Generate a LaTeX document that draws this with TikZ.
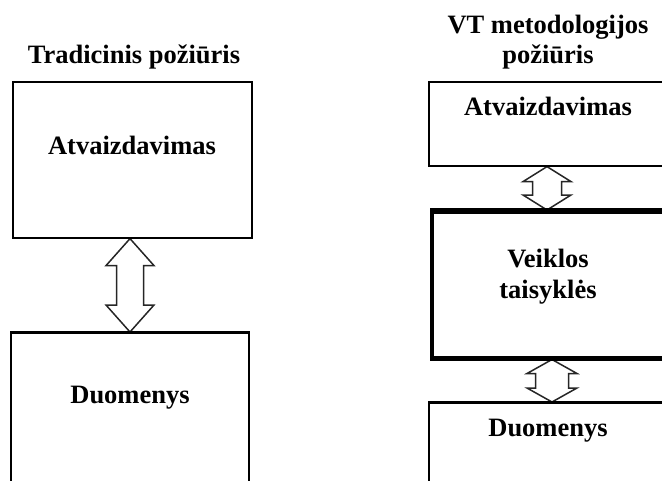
\documentclass[tikz,border=0pt]{standalone}
\usepackage{fontspec}
\setmainfont{Liberation Serif}
\usetikzlibrary{calc}

% double-headed block arrow between two points:
% #1 upper tip, #2 lower tip, #3 head half-width, #4 shaft half-width, #5 head length
\newcommand\dualarrow[5]{%
  \draw[blockarrow] (#1) -- ($(#1)+(#3,#5)$) -- ($(#1)+(#4,#5)$)
    -- ($(#2)+(#4,-#5)$) -- ($(#2)+(#3,-#5)$) -- (#2)
    -- ($(#2)+(-#3,-#5)$) -- ($(#2)+(-#4,-#5)$)
    -- ($(#1)+(-#4,#5)$) -- ($(#1)+(-#3,#5)$) -- cycle;}

\begin{document}
\begin{tikzpicture}[x=1pt,y=-1pt,
  box/.style={draw=black, line width=1.6pt, fill=white, anchor=north west, inner sep=0pt},
  thickbox/.style={box, line width=3.5pt},
  lbl/.style={font=\fontsize{26.5}{30}\selectfont\bfseries, anchor=base, inner sep=0pt, align=center},
  blockarrow/.style={draw=black!85, line width=1.5pt, fill=white, line join=miter}]
\useasboundingbox (0,0) rectangle (662,480);
\clip (0,0) rectangle (662,480);

% left column: traditional approach
\node[lbl] (ltitle) at (134,63) {Tradicinis požiūris};
\node[box, minimum width=239pt, minimum height=156pt] (ltop) at (12,81) {};
\node[box, minimum width=238pt, minimum height=170pt] (lbot) at (10,332) {};
\node[lbl] (lview) at (132,154) {Atvaizdavimas};
\node[lbl] (ldata) at (130,403) {Duomenys};
\coordinate (la) at (ltop.south -| 130,0);
\coordinate (lb) at (lbot.north -| 130,0);
\dualarrow{la}{lb}{24}{13.5}{27}

% right column: business rules approach
\node[lbl] (rtitle1) at (548,33) {VT metodologijos};
\node[lbl] (rtitle2) at (548,63) {požiūris};
\node[box, minimum width=240pt, minimum height=84pt] (rtop) at (428,81) {};
\node[thickbox, minimum width=238pt, minimum height=146pt] (rmid) at (430,210) {};
\node[box, minimum width=240pt, minimum height=100pt] (rbot) at (428,402) {};
\node[lbl] (rview) at (548,115) {Atvaizdavimas};
\node[lbl] (rrule1) at (548,267) {Veiklos};
\node[lbl] (rrule2) at (548,298) {taisyklės};
\node[lbl] (rdata) at (548,436) {Duomenys};
\coordinate (ra) at (rtop.south -| 547,0);
\coordinate (rb) at (rmid.north -| 547,0);
\coordinate (rc) at (rmid.south -| 552,0);
\coordinate (rd) at (rbot.north -| 552,0);
\dualarrow{ra}{rb}{24}{14.5}{15}
\dualarrow{rc}{rd}{25}{16.5}{14}

% redraw box outlines over the arrow tips
\draw[line width=1.6pt] (ltop.south west) -- (ltop.south east);
\draw[line width=1.6pt] (lbot.north west) -- (lbot.north east);
\draw[line width=1.6pt] (rtop.south west) -- (rtop.south east);
\draw[line width=1.6pt] (rbot.north west) -- (rbot.north east);
\draw[line width=3.5pt] (rmid.north west) -- (rmid.north east);
\draw[line width=3.5pt] (rmid.south west) -- (rmid.south east);
\end{tikzpicture}
\end{document}
